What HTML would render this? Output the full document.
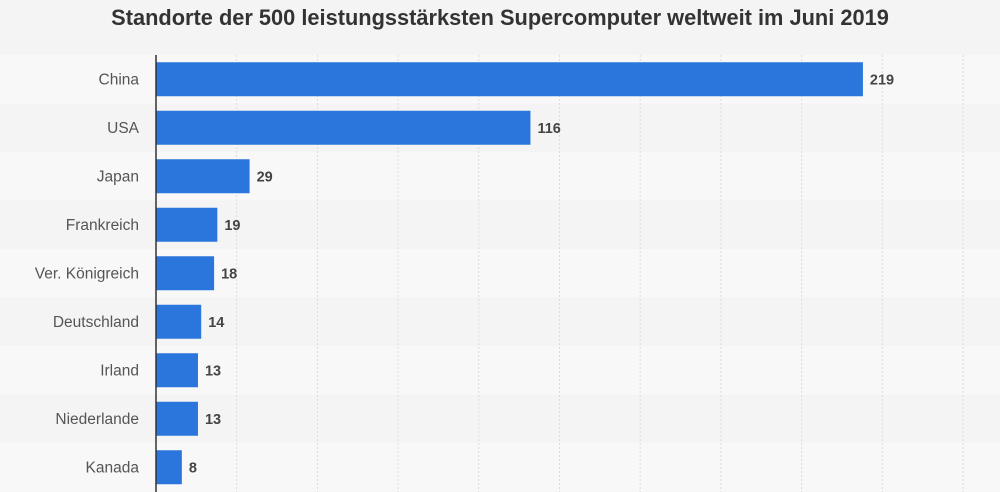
<!DOCTYPE html>
<html><head><meta charset="utf-8"><style>
body{margin:0;width:1000px;height:492px;background:#f4f4f4;font-family:"Liberation Sans",sans-serif;overflow:hidden}
#title{position:absolute;left:0;top:5px;width:1000px;text-align:center;font-weight:bold;font-size:21.8px;color:#333}
</style></head><body>
<div id="title">Standorte der 500 leistungsstärksten Supercomputer weltweit im Juni 2019</div>
<svg id="chart" width="1000" height="492" style="position:absolute;left:0;top:0"></svg>
<script>
const categories=["China","USA","Japan","Frankreich","Ver. Königreich","Deutschland","Irland","Niederlande","Kanada"];
const values=[219,116,29,19,18,14,13,13,8];
const ticks=[25,50,75,100,125,150,175,200,225,250];
const svg=document.getElementById('chart');
const NS='http://www.w3.org/2000/svg';
const x0=156,scale=(963-156)/250,top0=55,step=48.5,barH=34;
const xs=v=>x0+v*scale;
function mk(t,a){const e=document.createElementNS(NS,t);for(const k in a)e.setAttribute(k,a[k]);svg.appendChild(e);return e;}
categories.forEach((c,i)=>{
  const bg=mk('rect',{x:0,y:top0+i*step,width:1000,height:step,fill:i%2?'#f4f4f4':'#f8f8f8'});
  
  
});
ticks.forEach(t=>{
  const l=mk('line',{x1:xs(t),x2:xs(t),y1:top0,y2:492,stroke:'#dcdcdc','stroke-dasharray':'2,2'});
  
  
});
categories.forEach((c,i)=>{
  const cy=top0+i*step+step/2;
  const r=mk('rect',{x:x0,y:cy-barH/2,width:xs(values[i])-x0,height:barH,fill:'#2a76dd'});
  
  
  const lb=mk('text',{x:139,y:cy+5,'text-anchor':'end','font-size':'15.5',fill:'#555'});
  lb.textContent=c;
  
  
  const v=mk('text',{x:xs(values[i])+7,y:cy+5,'font-size':'14.5','font-weight':'bold',fill:'#444'});
  v.textContent=values[i];
  
  
});
const ax=mk('line',{x1:x0,x2:x0,y1:top0,y2:492,stroke:'#333','stroke-width':1.5});


</script>
</body></html>
